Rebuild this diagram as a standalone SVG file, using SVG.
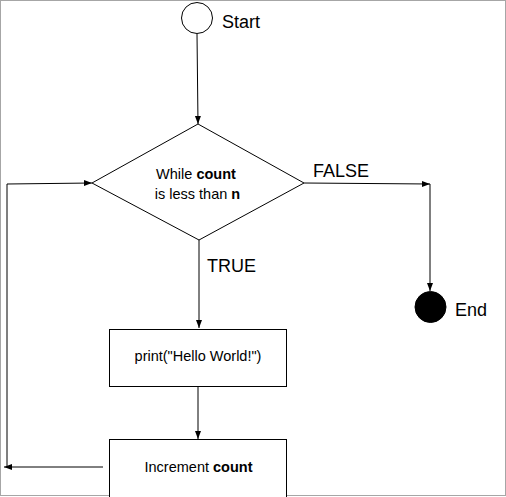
<svg xmlns="http://www.w3.org/2000/svg" width="506" height="497" viewBox="0 0 506 497">
<style>
.ln{fill:none;stroke:#000;stroke-width:1}
.nd{fill:#fff;stroke:#000;stroke-width:1}
.t{font-family:"Liberation Sans",Arial,sans-serif;fill:#000}
.s{font-size:14.5px}
.l{font-size:18px}
</style>
<defs>
<marker id="ah" viewBox="0 0 8 8" refX="8" refY="4" markerWidth="8" markerHeight="8" markerUnits="userSpaceOnUse" orient="auto">
<path d="M0,1 L8,4 L0,7 Z" fill="#000"/>
</marker>
</defs>
<rect x="0.5" y="0.5" width="505" height="495" fill="#fff" stroke="#a6a6a6"/>
<g id="connectors">
<line class="ln" x1="197" y1="34" x2="198" y2="124" marker-end="url(#ah)"/>
<polyline class="ln" points="304,183 430,184" marker-end="url(#ah)"/>
<line class="ln" x1="430" y1="184" x2="430" y2="291" marker-end="url(#ah)"/>
<line class="ln" x1="199" y1="240" x2="199" y2="328" marker-end="url(#ah)"/>
<line class="ln" x1="198" y1="386" x2="198" y2="439" marker-end="url(#ah)"/>
<line class="ln" x1="103" y1="467" x2="4" y2="467" marker-end="url(#ah)"/>
<line class="ln" x1="7" y1="467" x2="7" y2="184"/>
<line class="ln" x1="7" y1="184" x2="92" y2="183" marker-end="url(#ah)"/>
<text class="t l" x="313" y="177">FALSE</text>
<text class="t l" x="207" y="272">TRUE</text>
</g>
<g id="start">
<circle class="nd" cx="197" cy="18" r="15.5"/>
<text class="t l" x="222" y="28">Start</text>
</g>
<g id="decision">
<polygon class="nd" points="198,124 304,183 199,240 92,183"/>
<text class="t s" x="196" y="179" text-anchor="middle">While <tspan font-weight="bold">count</tspan></text>
<text class="t s" x="197.5" y="199" text-anchor="middle">is less than <tspan font-weight="bold">n</tspan></text>
</g>
<g id="end">
<circle cx="430.5" cy="307" r="15.5" fill="#000" stroke="#000"/>
<text class="t l" x="455" y="316">End</text>
</g>
<g id="print">
<rect class="nd" x="109.5" y="329.5" width="177" height="57"/>
<text class="t s" x="198" y="361" text-anchor="middle">print("Hello World!")</text>
</g>
<g id="increment">
<rect class="nd" x="109.5" y="439.5" width="177" height="70"/>
<text class="t s" x="198.5" y="472" text-anchor="middle">Increment <tspan font-weight="bold">count</tspan></text>
</g>
</svg>
